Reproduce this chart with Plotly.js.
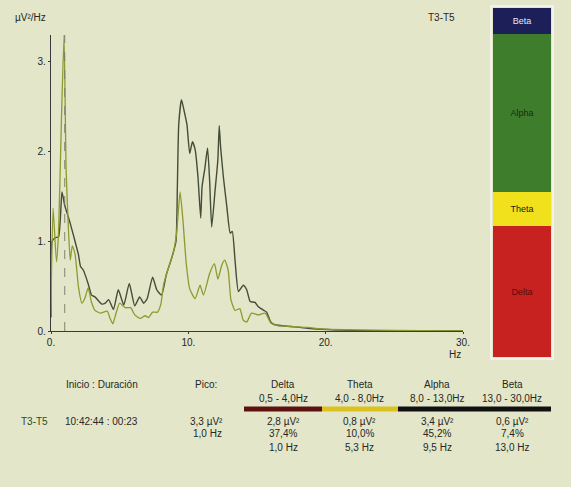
<!DOCTYPE html>
<html>
<head>
<meta charset="utf-8">
<script src="https://cdn.plot.ly/plotly-3.0.1.min.js"></script>
<style>html,body{margin:0;padding:0;background:#e3e6c8;}#chart{width:571px;height:487px;}</style>
</head>
<body>
<div id="chart"></div>
<script>
// ---- data ----
const channel = 'T3-T5';
const startDuration = '10:42:44 : 00:23';
const darkHz  = [0,0.08,0.3,0.55,0.8,1.0,1.2,1.4,1.75,2.0,2.15,2.35,2.7,2.95,3.2,3.5,3.7,3.95,4.2,4.55,4.9,5.3,5.7,6.1,6.45,6.75,7.0,7.4,7.7,8.05,8.4,8.8,9.1,9.2,9.3,9.5,9.7,9.9,10.1,10.3,10.5,10.7,10.9,11.0,11.2,11.4,11.55,11.7,11.95,12.15,12.25,12.35,12.55,12.8,13.05,13.2,13.4,13.65,14.0,14.25,14.5,14.85,15.1,15.5,15.7,16.0,16.3,17.5,18.7,19.7,21,25,30];
const darkVal = [0.15,1.0,1.04,1.05,1.55,1.4,1.3,1.2,1.0,0.85,0.72,0.68,0.53,0.40,0.38,0.33,0.30,0.31,0.35,0.24,0.46,0.29,0.53,0.28,0.38,0.31,0.36,0.60,0.46,0.40,0.63,0.82,1.0,1.6,2.3,2.58,2.45,2.3,1.98,2.11,2.02,1.72,1.26,1.61,1.81,2.04,1.68,1.16,1.57,1.91,2.29,2.05,1.72,1.39,1.09,1.11,0.79,0.44,0.51,0.46,0.33,0.32,0.27,0.23,0.21,0.10,0.07,0.05,0.03,0.02,0.01,0.0,0.0];
const litHz  = [0,0.15,0.4,0.55,0.75,0.95,1.1,1.25,1.4,1.55,1.75,2.0,2.25,2.48,2.7,2.95,3.2,3.6,4.1,4.3,4.5,4.7,5.0,5.4,5.8,6.1,6.5,6.85,7.1,7.4,7.75,8.0,8.2,8.55,8.9,9.15,9.4,9.6,9.85,10.1,10.5,10.85,11.1,11.55,11.9,12.15,12.45,12.65,12.9,13.1,13.4,13.75,14.0,14.25,14.6,15.1,15.6,16.0,16.5,17.5,18.7,20,30];
const litVal = [0.3,1.37,0.77,1.1,2.3,3.3,1.8,1.2,0.79,0.95,0.86,0.49,0.31,0.37,0.48,0.32,0.23,0.20,0.22,0.14,0.08,0.18,0.31,0.26,0.26,0.18,0.14,0.17,0.15,0.21,0.21,0.30,0.52,0.70,0.87,1.10,1.55,1.25,0.75,0.47,0.36,0.51,0.40,0.64,0.75,0.58,0.74,0.79,0.68,0.35,0.23,0.25,0.12,0.10,0.20,0.18,0.20,0.09,0.06,0.05,0.04,0.02,0.0];
const peakHz = 1.0;
const peakVal = 3.3;
const peakPowerText = '3,3 µV²';
const peakFreqText = '1,0 Hz';
const xTickVals = [0,10,20,30];
const xTickText = ['0.','10.','20.','30.'];
const yTickVals = [0,1,2,3];
const yTickText = ['0.','1.','2.','3.'];
const bands = ['Delta','Theta','Alpha','Beta'];
const bandRanges = ['0,5 - 4,0Hz','4,0 - 8,0Hz','8,0 - 13,0Hz','13,0 - 30,0Hz'];
const bandPower = ['2,8 µV²','0,8 µV²','3,4 µV²','0,6 µV²'];
const bandPercent = [37.4, 10.0, 45.2, 7.4];
const bandPeak = ['1,0 Hz','5,3 Hz','9,5 Hz','13,0 Hz'];

// ---- styles / layout ----
const W = 571, H = 487;
const FONT = 'Liberation Sans, Arial, sans-serif';
const TXT = '#262626';
const BG = '#e3e6c8';
const px = x => x / W;
const py = y => 1 - y / H;
const bandFill = ['#c7221f','#f1e01c','#3e7d2c','#1c1f58'];
const bandTextColor = ['#5a0c0c','#1a1a1a','#1a2a10','#e8e8f0'];
const bandStrip = ['#5c1210','#dcc21e','#111111','#111111'];
const colX = [283, 360, 437, 512];
const stripX = [244, 322, 398, 475, 551];

const traces = [
  {x: darkHz, y: darkVal, type: 'scatter', mode: 'lines', line: {color: '#434d38', width: 1.4, shape: 'spline', smoothing: 0.5}, hoverinfo: 'skip', xaxis: 'x', yaxis: 'y'},
  {x: litHz, y: litVal, type: 'scatter', mode: 'lines', line: {color: '#8e9a30', width: 1.3, shape: 'spline', smoothing: 0.5}, hoverinfo: 'skip', xaxis: 'x', yaxis: 'y'},
  {x: [peakHz, peakHz], y: [0, peakVal], type: 'scatter', mode: 'lines', line: {color: '#777a66', width: 0.9, dash: 'dash'}, hoverinfo: 'skip', xaxis: 'x', yaxis: 'y'}
];
bands.forEach((b, i) => {
  traces.push({
    x: [0], y: [bandPercent[i]], type: 'bar', xaxis: 'x2', yaxis: 'y2',
    marker: {color: bandFill[i], line: {width: 0}},
    text: [b], textposition: 'inside', insidetextanchor: 'middle', textangle: 0,
    textfont: {family: FONT, size: 9, color: bandTextColor[i]},
    hoverinfo: 'skip', width: 1
  });
});

const ann = [];
function t(text, x, y, size, extra) {
  ann.push(Object.assign({text: text, x: px(x), y: py(y), xref: 'paper', yref: 'paper',
    showarrow: false, xanchor: 'center', yanchor: 'middle',
    font: {family: FONT, size: size || 10, color: TXT}}, extra || {}));
}
t('µV²/Hz', 30, 18, 10);
t(channel, 441, 17, 10);
t('Hz', 463, 354, 10, {xanchor: 'right'});
t('Inicio : Duración', 102, 384, 10);
t('Pico:', 206, 384, 10);
t(channel, 34, 421, 10, {font: {family: FONT, size: 10, color: '#2f4a25'}});
t(startDuration, 102, 421, 10);
t(peakPowerText, 206, 421, 10);
t(peakFreqText, 207, 433, 10);
bands.forEach((b, i) => {
  t(b, colX[i], 384, 10);
  t(bandRanges[i], colX[i], 398, 10);
  t(bandPower[i], colX[i], 421, 10);
  t(bandPercent[i].toFixed(1).replace('.', ',') + '%', colX[i], 433, 10);
  t(bandPeak[i], colX[i], 447, 10);
});

const shapes = [
  {type: 'rect', xref: 'paper', yref: 'paper', x0: px(491), x1: px(553), y0: py(359), y1: py(6),
   line: {color: '#f2f2e6', width: 2}, fillcolor: 'rgba(0,0,0,0)', layer: 'below'}
];
for (let i = 0; i < 4; i++) {
  shapes.push({type: 'line', xref: 'paper', yref: 'paper', x0: px(stripX[i]), x1: px(stripX[i+1]), y0: py(409), y1: py(409),
    line: {color: bandStrip[i], width: 5}});
}

const layout = {
  width: W, height: H,
  margin: {l: 0, r: 0, t: 0, b: 0},
  paper_bgcolor: BG, plot_bgcolor: BG,
  showlegend: false, barmode: 'stack', bargap: 0,
  font: {family: FONT, size: 10, color: TXT},
  xaxis: {domain: [px(51), px(463)], range: [0, 30], tickvals: xTickVals, ticktext: xTickText,
    showline: true, linecolor: '#3a3a3a', linewidth: 1.2, ticks: 'outside', ticklen: 2, tickcolor: '#3a3a3a',
    showgrid: false, zeroline: false, tickfont: {family: FONT, size: 10, color: TXT}, fixedrange: true},
  yaxis: {domain: [py(331), py(35)], range: [0, 3.3], tickvals: yTickVals, ticktext: yTickText,
    showline: true, linecolor: '#3a3a3a', linewidth: 1.2, ticks: 'outside', ticklen: 2, tickcolor: '#3a3a3a',
    showgrid: false, zeroline: false, tickfont: {family: FONT, size: 10, color: TXT}, fixedrange: true},
  xaxis2: {domain: [px(493), px(551)], range: [-0.5, 0.5], visible: false, anchor: 'y2', fixedrange: true},
  yaxis2: {domain: [py(357), py(8)], range: [0, 100], visible: false, anchor: 'x2', fixedrange: true},
  annotations: ann,
  shapes: shapes
};
Plotly.newPlot('chart', traces, layout, {staticPlot: true, displayModeBar: false});
</script>
</body>
</html>
